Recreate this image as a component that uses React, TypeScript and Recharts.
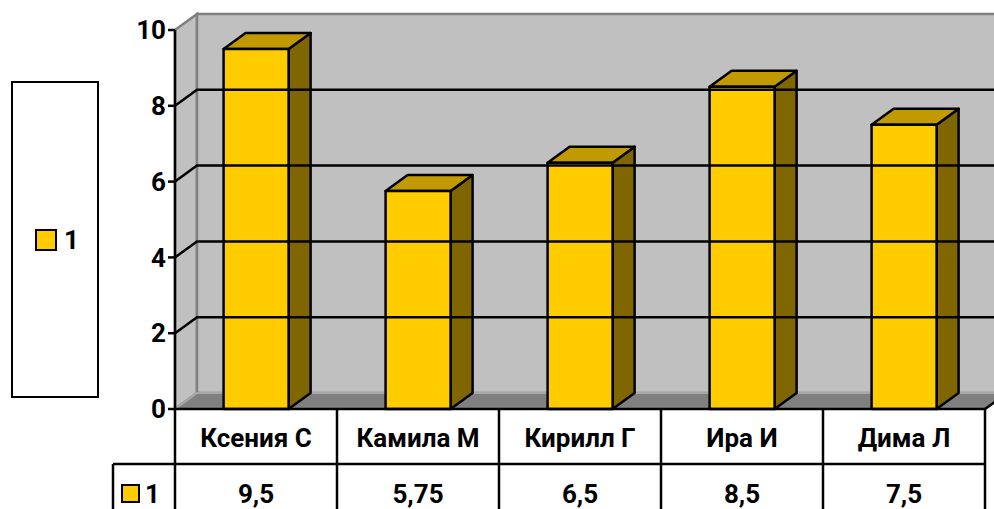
import React from "react";
import {
  Bar,
  BarChart,
  ReferenceArea,
  ReferenceLine,
  XAxis,
  YAxis,
} from "recharts";

// data
const categories = ["Ксения С", "Камила М", "Кирилл Г", "Ира И", "Дима Л"];
const seriesName = "1";
const seriesValues = [9.5, 5.75, 6.5, 8.5, 7.5];
const yTicks = [0, 2, 4, 6, 8, 10];
const gridValues = [2, 4, 6, 8];

const W = 994;
const H = 509;
const DX = 22; // 3d depth
const DY = -16;
const FONT = "'Roboto', 'Open Sans', sans-serif";
const FS = 26;
const SW = 2.5;
const GOLD = "#FFCC00";
const GOLD_TOP = "#C09A00";
const GOLD_SIDE = "#806600";

const data = categories.map((name, i) => ({ name, v: seriesValues[i] }));
const fmt = (v: number) => String(v).replace(".", ",");

function Wall(p: any) {
  const { x, y, width, height } = p;
  const b = y + height;
  return (
    <g>
      <polygon
        points={`${x},${y} ${x + DX},${y + DY} ${x + DX},${b + DY} ${x},${b}`}
        fill="#C0C0C0"
        stroke="#808080"
        strokeWidth={SW}
      />
      <rect x={x + DX} y={y + DY} width={width} height={height} fill="#C0C0C0" stroke="#808080" strokeWidth={SW} />
      <polygon
        points={`${x},${b} ${x + DX},${b + DY} ${x + width + DX},${b + DY} ${x + width},${b}`}
        fill="#808080"
        stroke="#A8A8A8"
        strokeWidth={2}
      />
      <line x1={x + width} y1={b} x2={x + width + DX} y2={b + DY} stroke="#000" strokeWidth={SW} />
    </g>
  );
}

// gridline drawn on the side wall and the back wall
function GridLine(p: any) {
  const { x1, y1, x2 } = p;
  const l = Math.min(x1, x2);
  const r = Math.max(x1, x2);
  return (
    <polyline
      points={`${l},${y1} ${l + DX},${y1 + DY} ${r + DX},${y1 + DY}`}
      fill="none"
      stroke="#000"
      strokeWidth={SW}
    />
  );
}

function Bar3D(p: any) {
  const { x, y, width, height } = p;
  const r = x + width;
  const b = y + height;
  return (
    <g stroke="#000" strokeWidth={SW} strokeLinejoin="round">
      <polygon points={`${r},${y} ${r + DX},${y + DY} ${r + DX},${b + DY} ${r},${b}`} fill={GOLD_SIDE} />
      <polygon points={`${x},${y} ${x + DX},${y + DY} ${r + DX},${y + DY} ${r},${y}`} fill={GOLD_TOP} />
      <rect x={x} y={y} width={width} height={height} fill={GOLD} />
    </g>
  );
}

function TableTick(p: any) {
  const { x, y, payload, index } = p;
  const cellW = p.width ? p.width / categories.length : 162;
  const left = x - cellW / 2;
  const right = x + cellW / 2;
  const rowH = 55;
  const line = { stroke: "#000", strokeWidth: SW };
  return (
    <g>
      {index === 0 && (
        <g>
          <line x1={left} y1={y} x2={left} y2={y + 110} {...line} />
          <line x1={left - 62} y1={y + rowH} x2={left} y2={y + rowH} {...line} />
          <line x1={left - 62} y1={y + rowH} x2={left - 62} y2={y + 110} {...line} />
          <rect x={left - 53} y={y + 76} width={17} height={17} fill={GOLD} stroke="#000" strokeWidth={2} />
          <text x={left - 30} y={y + 94} fontFamily={FONT} fontWeight={700} fontSize={FS} fill="#000">
            {seriesName}
          </text>
        </g>
      )}
      <line x1={right} y1={y} x2={right} y2={y + 110} {...line} />
      <line x1={left} y1={y + rowH} x2={right} y2={y + rowH} {...line} />
      <text x={x} y={y + 38} textAnchor="middle" fontFamily={FONT} fontWeight={700} fontSize={FS} fill="#000">
        {payload.value}
      </text>
      <text x={x} y={y + 94} textAnchor="middle" fontFamily={FONT} fontWeight={700} fontSize={FS} fill="#000">
        {fmt(seriesValues[index])}
      </text>
    </g>
  );
}

function LegendBox() {
  return (
    <div
      style={{
        position: "absolute",
        left: 11,
        top: 81,
        width: 88,
        height: 317,
        border: "2px solid #000",
        background: "#fff",
        display: "flex",
        alignItems: "center",
        paddingLeft: 22,
        boxSizing: "border-box",
        fontFamily: FONT,
        fontWeight: 700,
        fontSize: FS,
      }}
    >
      <span
        style={{
          display: "inline-block",
          width: 18,
          height: 18,
          background: GOLD,
          border: "2px solid #000",
          marginRight: 7,
        }}
      />
      {seriesName}
    </div>
  );
}

export default function App() {
  return (
    <div style={{ position: "absolute", left: 0, top: 0, width: W, height: H, background: "#fff", overflow: "hidden" }}>
      <LegendBox />
      <BarChart
        width={W}
        height={H}
        data={data}
        margin={{ top: 30, right: 9, bottom: 0, left: 115 }}
        barCategoryGap="30%"
      >
        <ReferenceArea y1={0} y2={10} shape={<Wall />} ifOverflow="visible" />
        {gridValues.map((v) => (
          <ReferenceLine key={v} y={v} shape={<GridLine />} ifOverflow="visible" />
        ))}
        <XAxis
          dataKey="name"
          height={100}
          tickLine={false}
          tickSize={0}
          tickMargin={0}
          axisLine={{ stroke: "#000", strokeWidth: SW }}
          tick={<TableTick />}
          interval={0}
        />
        <YAxis
          width={60}
          domain={[0, 10]}
          ticks={yTicks}
          tickSize={7}
          tickLine={{ stroke: "#000", strokeWidth: SW }}
          axisLine={{ stroke: "#000", strokeWidth: SW }}
          tick={{ fill: "#000", fontFamily: FONT, fontWeight: 700, fontSize: FS }}
        />
        <Bar dataKey="v" name={seriesName} shape={<Bar3D />} isAnimationActive={false} />
      </BarChart>
    </div>
  );
}
